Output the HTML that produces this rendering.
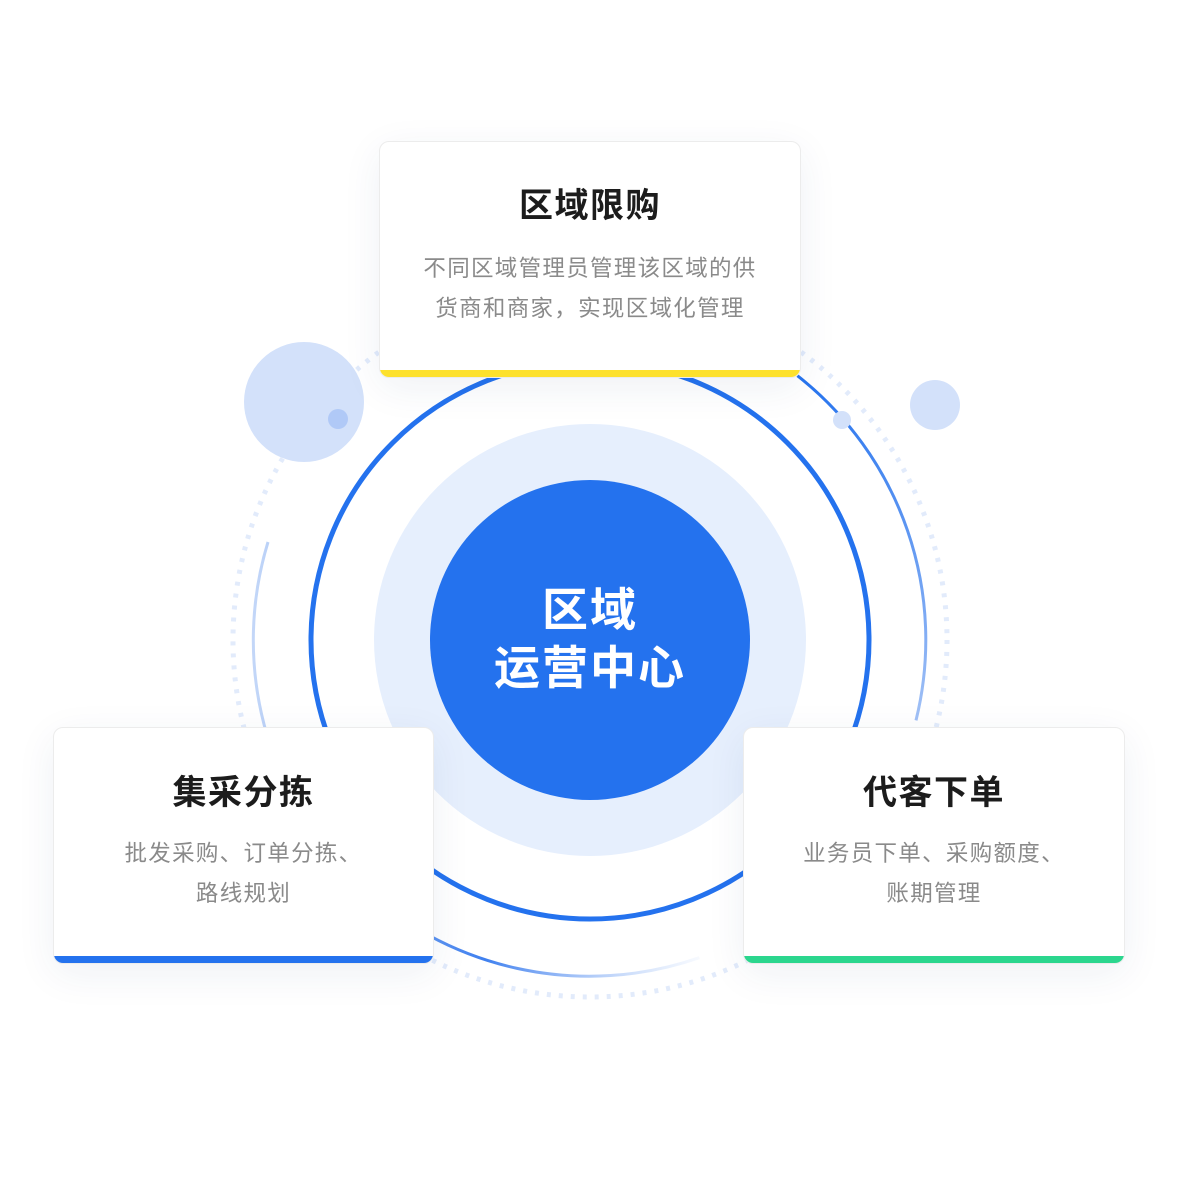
<!DOCTYPE html>
<html><head><meta charset="utf-8"><style>
html,body{margin:0;padding:0;background:#fff;}
body{width:1180px;height:1200px;position:relative;overflow:hidden;font-family:"Liberation Sans","Noto Sans CJK SC",sans-serif;}
svg{position:absolute;left:0;top:0;}
.card{position:absolute;background:#fff;border:1px solid #ececec;border-radius:10px;box-shadow:0 10px 40px rgba(30,60,120,0.07);overflow:hidden;box-sizing:border-box;text-align:center;}
.card .t{position:absolute;left:0;right:0;font-size:34px;font-weight:bold;color:#1c1c1c;letter-spacing:1.5px;line-height:40px;}
.card .d{position:absolute;left:0;right:0;font-size:22.5px;color:#8a8a8a;letter-spacing:1.3px;line-height:40px;}
.card .bar{position:absolute;left:0;right:0;bottom:0;height:7px;}
.center{position:absolute;left:430px;top:480px;width:320px;height:320px;border-radius:50%;background:#2472ee;color:#fff;font-size:46px;font-weight:bold;text-align:center;line-height:58px;letter-spacing:2px;}
</style></head><body>
<svg width="1180" height="1200" viewBox="0 0 1180 1200">
<defs>
<linearGradient id="gr" gradientUnits="userSpaceOnUse" x1="0" y1="370" x2="0" y2="730">
<stop offset="0" stop-color="#2472ee"/>
<stop offset="1" stop-color="#a5c3f6"/>
</linearGradient>
<linearGradient id="gb" gradientUnits="userSpaceOnUse" x1="720" y1="0" x2="250" y2="0">
<stop offset="0" stop-color="#a9c6f7" stop-opacity="0"/>
<stop offset="0.5" stop-color="#3f80ef"/>
<stop offset="1" stop-color="#c5d8f8"/>
</linearGradient>
</defs>
<circle cx="590" cy="640" r="357" fill="none" stroke="#e2ebfb" stroke-width="5" stroke-dasharray="4 8"/>
<path d="M 797.4 375.7 A 336 336 0 0 1 916 720.4" fill="none" stroke="url(#gr)" stroke-width="3"/>
<path d="M 699.4 957.7 A 336 336 0 0 1 268 542" fill="none" stroke="url(#gb)" stroke-width="3"/>
<circle cx="590" cy="640" r="216" fill="#e6effd"/>
<circle cx="590" cy="640" r="279" fill="none" stroke="#2472ee" stroke-width="5"/>
<circle cx="304" cy="402" r="60" fill="#d3e1fa"/>
<circle cx="338" cy="419" r="10" fill="#b0c9f7"/>
<circle cx="935" cy="405" r="25" fill="#d3e1fa"/>
<circle cx="842" cy="420" r="9" fill="#d3e1fa"/>
</svg>
<div class="center"><div style="position:absolute;top:101px;left:0;right:0;">区域<br>运营中心</div></div>
<div class="card" style="left:379px;top:141px;width:422px;height:237px;">
<div class="t" style="top:44px;">区域限购</div>
<div class="d" style="top:107px;">不同区域管理员管理该区域的供<br>货商和商家，实现区域化管理</div>
<div class="bar" style="background:#fde12d;"></div></div>
<div class="card" style="left:53px;top:727px;width:381px;height:237px;">
<div class="t" style="top:45px;">集采分拣</div>
<div class="d" style="top:106px;">批发采购、订单分拣、<br>路线规划</div>
<div class="bar" style="background:#2472ee;"></div></div>
<div class="card" style="left:743px;top:727px;width:382px;height:237px;">
<div class="t" style="top:45px;">代客下单</div>
<div class="d" style="top:106px;">业务员下单、采购额度、<br>账期管理</div>
<div class="bar" style="background:#2bd68e;"></div></div>
</body></html>
